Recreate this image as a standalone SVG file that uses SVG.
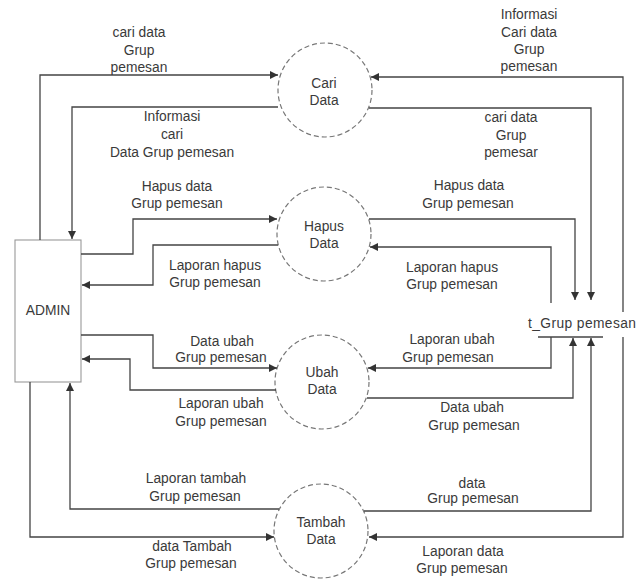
<svg xmlns="http://www.w3.org/2000/svg" width="638" height="582" viewBox="0 0 638 582">
<style>
text{font-family:"Liberation Sans",Arial,sans-serif;font-size:13.8px;fill:#3a3a3a;text-anchor:middle}
.proc{fill:none;stroke:#777;stroke-width:1.2;stroke-dasharray:5 3}
.flow{fill:none;stroke:#444;stroke-width:1.3;marker-end:url(#ah)}
.line{fill:none;stroke:#444;stroke-width:1.3}
.ent{fill:none;stroke:#999;stroke-width:1.1}
</style>
<defs>
<marker id="ah" viewBox="0 0 10 10" refX="10" refY="5" markerWidth="8" markerHeight="8" markerUnits="userSpaceOnUse" orient="auto">
<path d="M0,0 L10,5 L0,10 z" fill="#333"/>
</marker>
</defs>
<rect width="638" height="582" fill="#fff"/>

<g id="admin">
<rect class="ent" x="15" y="240" width="66" height="142"/>
<text x="48" y="315">ADMIN</text>
</g>

<g id="cari-data">
<circle class="proc" cx="325" cy="90" r="47"/>
<text x="324" y="88">Cari</text>
<text x="324" y="105">Data</text>
</g>

<g id="hapus-data">
<circle class="proc" cx="324" cy="234" r="47"/>
<text x="324" y="231">Hapus</text>
<text x="324" y="248">Data</text>
</g>

<g id="ubah-data">
<circle class="proc" cx="322" cy="382" r="47"/>
<text x="322" y="377">Ubah</text>
<text x="322" y="394">Data</text>
</g>

<g id="tambah-data">
<circle class="proc" cx="321" cy="531" r="47"/>
<text x="321" y="527">Tambah</text>
<text x="321" y="544">Data</text>
</g>

<g id="t-grup-pemesan">
<line class="line" x1="538" y1="337" x2="603" y2="337"/>
<text x="528" y="328" style="text-anchor:start;letter-spacing:0.4px">t_Grup pemesan</text>
</g>

<g id="connectors">
<path class="flow" d="M40,240 V75 H278"/>
<path class="flow" d="M278,107 H72 V239"/>
<path class="flow" d="M81,254 H133 V219 H277"/>
<path class="flow" d="M278,245 H153 V285 H82"/>
<path class="flow" d="M81,335 H153 V368 H277"/>
<path class="flow" d="M276,390 H130 V359 H82"/>
<path class="flow" d="M279,509 H70 V383"/>
<path class="flow" d="M30,382 V537 H274"/>
<path class="flow" d="M623,312 V77 H371"/>
<path class="flow" d="M369,108 H591 V300"/>
<path class="flow" d="M369,219 H575 V300"/>
<path class="flow" d="M551,303 V247 H370"/>
<path class="flow" d="M551,337 V368 H368"/>
<path class="flow" d="M367,398 H573 V338"/>
<path class="flow" d="M364,511 H591 V338"/>
<path class="flow" d="M623,337 V537 H369"/>
</g>

<g id="labels">
<text x="139" y="37">cari data</text>
<text x="139" y="55">Grup</text>
<text x="139" y="72">pemesan</text>

<text x="172" y="121">Informasi</text>
<text x="172" y="139">cari</text>
<text x="172" y="157">Data Grup pemesan</text>

<text x="529" y="19">Informasi</text>
<text x="529" y="37">Cari data</text>
<text x="529" y="54">Grup</text>
<text x="529" y="71">pemesan</text>

<text x="511" y="122">cari data</text>
<text x="511" y="140">Grup</text>
<text x="511" y="157">pemesar</text>

<text x="177" y="191">Hapus data</text>
<text x="177" y="208">Grup pemesan</text>

<text x="215" y="270">Laporan hapus</text>
<text x="215" y="287">Grup pemesan</text>

<text x="469" y="190">Hapus data</text>
<text x="468" y="208">Grup pemesan</text>

<text x="452" y="272">Laporan hapus</text>
<text x="452" y="289">Grup pemesan</text>

<text x="222" y="346">Data ubah</text>
<text x="221" y="362">Grup pemesan</text>

<text x="221" y="408">Laporan ubah</text>
<text x="221" y="426">Grup pemesan</text>

<text x="452" y="344">Laporan ubah</text>
<text x="448" y="362">Grup pemesan</text>

<text x="472" y="412">Data ubah</text>
<text x="474" y="430">Grup pemesan</text>

<text x="196" y="483">Laporan tambah</text>
<text x="195" y="501">Grup pemesan</text>

<text x="192" y="551">data Tambah</text>
<text x="191" y="568">Grup pemesan</text>

<text x="472" y="488">data</text>
<text x="473" y="503">Grup pemesan</text>

<text x="463" y="556">Laporan data</text>
<text x="462" y="573">Grup pemesan</text>
</g>
</svg>
